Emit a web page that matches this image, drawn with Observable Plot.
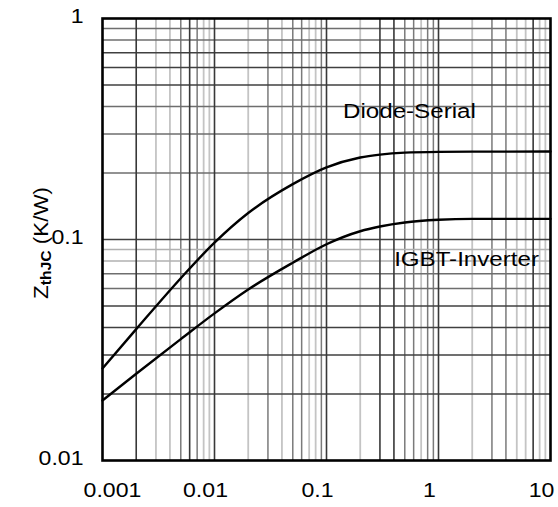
<!DOCTYPE html>
<html><head><meta charset="utf-8">
<script src="https://cdn.jsdelivr.net/npm/d3@7"></script>
<script src="https://cdn.jsdelivr.net/npm/@observablehq/plot@0.6"></script>
<style>body{margin:0;background:#fff;}</style>
</head><body><div id="chart"></div>
<script>
// time (s)
const timeS = [0.001, 0.002, 0.005, 0.01, 0.02, 0.05, 0.1, 0.2, 0.3, 0.5, 1, 2, 10];
// Zth,JC (K/W)
const diodeSerial  = [0.0261, 0.0393, 0.0668, 0.0968, 0.1318, 0.178, 0.212, 0.235, 0.2422, 0.2472, 0.2492, 0.2497, 0.25];
const igbtInverter = [0.0187, 0.0247, 0.0354, 0.0463, 0.0594, 0.0785, 0.0952, 0.109, 0.1145, 0.1194, 0.1228, 0.124, 0.124];
const seriesNames = ["Diode-Serial", "IGBT-Inverter"];
const xTicksFirst = [0.001];
const xTicks = [0.01, 0.1, 1, 10];
const yTicks = [0.01, 0.1, 1];
const xGridDark  = [0.002, 0.006, 0.01, 0.1, 0.3, 0.4, 1, 7];
const xGridMid   = [0.005, 0.007, 0.03, 0.05, 0.06, 0.09, 0.5, 0.6, 0.8, 0.9, 3, 4];
const xGridLight = [0.003, 0.004, 0.008, 0.009, 0.02, 0.04, 0.07, 0.08, 0.2, 0.7, 2, 5, 6, 8, 9];
const yGridDark  = [0.02, 0.03, 0.04, 0.05, 0.1, 0.5, 0.6, 0.7];
const yGridMid   = [0.06, 0.07, 0.2, 0.3, 0.4, 0.8, 0.9];
const yGridLight = [0.08, 0.09];
const curveLabels = [
  {name: seriesNames[0], x: 0.55, y: 0.38},
  {name: seriesNames[1], x: 1.78, y: 0.0812}
];

const rows = [];
timeS.forEach((t, i) => {
  rows.push({series: seriesNames[0], t, z: diodeSerial[i]});
  rows.push({series: seriesNames[1], t, z: igbtInverter[i]});
});

const font = "'Liberation Sans', Arial, Helvetica, sans-serif";
const tickStyle = {tickSize: 0, tickPadding: 22, fontSize: 21, tickFormat: d => String(d), label: null};
const chart = Plot.plot({
  width: 558, height: 507,
  marginLeft: 102, marginRight: 8, marginTop: 18, marginBottom: 47,
  style: {fontFamily: font, background: "#fff", color: "#000"},
  x: {type: "log", domain: [0.001, 10], axis: null},
  y: {type: "log", domain: [0.01, 1], axis: null},
  marks: [
    Plot.ruleX(xGridLight, {stroke: "#c4c4c4", strokeWidth: 1.8}),
    Plot.ruleX(xGridMid, {stroke: "#7a7a7a", strokeWidth: 1.5}),
    Plot.ruleY(yGridLight, {stroke: "#b0b0b0", strokeWidth: 1.5}),
    Plot.ruleY(yGridMid, {stroke: "#6e6e6e", strokeWidth: 1.5}),
    Plot.ruleY(yGridDark, {stroke: "#404040", strokeWidth: 1.5}),
    Plot.ruleX(xGridDark, {stroke: "#383838", strokeWidth: 1.6}),
    Plot.line(rows, {x: "t", y: "z", z: "series", stroke: "#000", strokeWidth: 2.4, curve: "monotone-x"}),
    Plot.text(curveLabels, {x: "x", y: "y", text: "name", fontSize: 21, fill: "#000"}),
    Plot.axisX(xTicksFirst, {...tickStyle, dx: 10}),
    Plot.axisX(xTicks, {...tickStyle, dx: -9}),
    Plot.axisY(yTicks, {...tickStyle, tickPadding: 19, dy: -2}),
    Plot.frame({stroke: "#000", strokeWidth: 2.6})
  ]
});

// slightly widen text like the reference
d3.select(chart).selectAll("text").each(function() {
  const tr = this.getAttribute("transform");
  const s = this.closest("[aria-label='text']") ? 1.15 : 1.1;
  if (tr) this.setAttribute("transform", tr + ` scale(${s},1)`);
  else {
    const x = +this.getAttribute("x") || 0, y = +this.getAttribute("y") || 0;
    this.setAttribute("transform", `translate(${x},${y}) scale(${s},1)`);
    this.setAttribute("x", 0); this.setAttribute("y", 0);
  }
});

const yl = d3.select(chart).append("text")
  .attr("transform", "translate(48,243) rotate(-90) scale(1.12,1)")
  .attr("text-anchor", "middle")
  .attr("font-family", font)
  .attr("font-size", 20)
  .attr("fill", "#000");
yl.append("tspan").text("Z");
yl.append("tspan").attr("font-size", 14).attr("font-weight", "bold").attr("dy", 3).text("thJC");
yl.append("tspan").attr("dy", -3).text(" (K/W)");

document.getElementById("chart").appendChild(chart);
</script>
</body></html>
